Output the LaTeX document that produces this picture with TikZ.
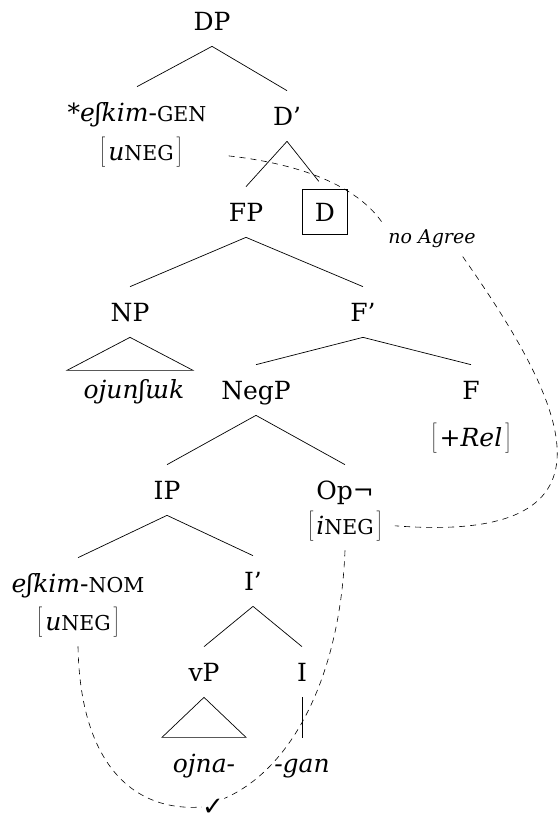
\documentclass[tikz,border=0pt]{standalone}
\usepackage{fontspec}
\setmainfont{DejaVu Serif}
\newfontfamily\symfont{DejaVu Sans}
\usepackage{tikz}

\newcommand{\smcap}[1]{{\fontsize{20.5pt}{24pt}\selectfont #1}}
\newcommand{\tallbr}[1]{\raisebox{2pt}{$\left#1\vcenter to 33pt{}\right.\kern-\nulldelimiterspace$}}
\newcommand{\fbr}[1]{\tallbr[\kern3pt#1\kern3pt\tallbr]}

\begin{document}
\begin{tikzpicture}[x=1pt,y=1pt,line width=0.7pt,
  font=\fontsize{25pt}{30pt}\selectfont,
  lab/.style={text height=18pt,text depth=0pt,inner xsep=2pt,inner ysep=16pt},
  boxd/.style={draw,text height=18pt,text depth=0pt,minimum width=45pt,minimum height=45pt,inner sep=0pt},
  agree/.style={dash pattern=on 6pt off 5pt,line width=0.6pt}]
\useasboundingbox (0,0) rectangle (559,-814);

% tree labels
\node[lab] (DP) at (212,-21) {DP};
\node[lab] (gen) at (137,-112) {*\textit{eʃkim}-\smcap{GEN}};
\node[lab] (genf) at (141,-151) {\fbr{\textit{u}\smcap{NEG}}};
\node[lab] (Dbar) at (287,-116) {D’};
\node[lab] (FP) at (246,-212) {FP};
\node[boxd] (Dbox) at (325,-212) {D};
\node[font=\fontsize{19pt}{22pt}\selectfont\itshape] (noag) at (432,-239) {no Agree};
\node[lab] (NP) at (130,-312) {NP};
\node[lab] (Fbar) at (363,-312) {F’};
\node[lab] (ojun) at (134,-389) {\textit{ojunʃɯk}};
\node[lab] (NegP) at (256,-390) {NegP};
\node[lab] (F) at (471,-390) {F};
\node[lab] (Relf) at (471,-437) {\fbr{+\textit{Rel}}};
\node[lab] (IP) at (167,-490) {IP};
\node[lab] (Op) at (345,-490) {Op¬};
\node[lab] (opf) at (345,-525) {\fbr{\textit{i}\smcap{NEG}}};
\node[lab] (nom) at (78,-583) {\textit{eʃkim}-\smcap{NOM}};
\node[lab] (nomf) at (78,-621) {\fbr{\textit{u}\smcap{NEG}}};
\node[lab] (Ibar) at (253,-581) {I’};
\node[lab] (vP) at (204,-672) {vP};
\node[lab] (I) at (302,-672) {I};
\node[lab] (ojna) at (204,-763) {\textit{ojna-}};
\node[lab] (gan) at (302,-763) {\textit{-gan}};
\node[font=\fontsize{26pt}{30pt}\symfont,inner sep=0pt] (check) at (213,-807) {✓};

% branches
\foreach \a/\b in {DP/gen,DP/Dbar,Dbar/FP,FP/NP,FP/Fbar,Fbar/NegP,Fbar/F,
  NegP/IP,NegP/Op,IP/nom,IP/Ibar,Ibar/vP,Ibar/I,I/gan}
  \draw (\a.south) -- (\b.north);
\draw[shorten >=10pt] (Dbar.south) -- (Dbox.north);

% triangles
\draw (NP.south) -- ++(-63,-33) -- ++(126,0) -- cycle;
\draw (vP.south) -- ++(-42,-40) -- ++(84,0) -- cycle;

% agreement
\draw[agree,shorten <=44pt,shorten >=4pt] (genf.east) .. controls (310,-165) and (360,-190) .. (noag.north west);
\draw[agree,shorten <=6pt,shorten >=10pt] (noag.-25) .. controls (560,-395) and (640,-545) .. (opf.east);
\draw[agree] (opf.south) .. controls (340,-680) and (290,-770) .. (check.north east);
\draw[agree] (nomf.south) .. controls (80,-760) and (130,-812) .. (check.west);
\end{tikzpicture}
\end{document}
